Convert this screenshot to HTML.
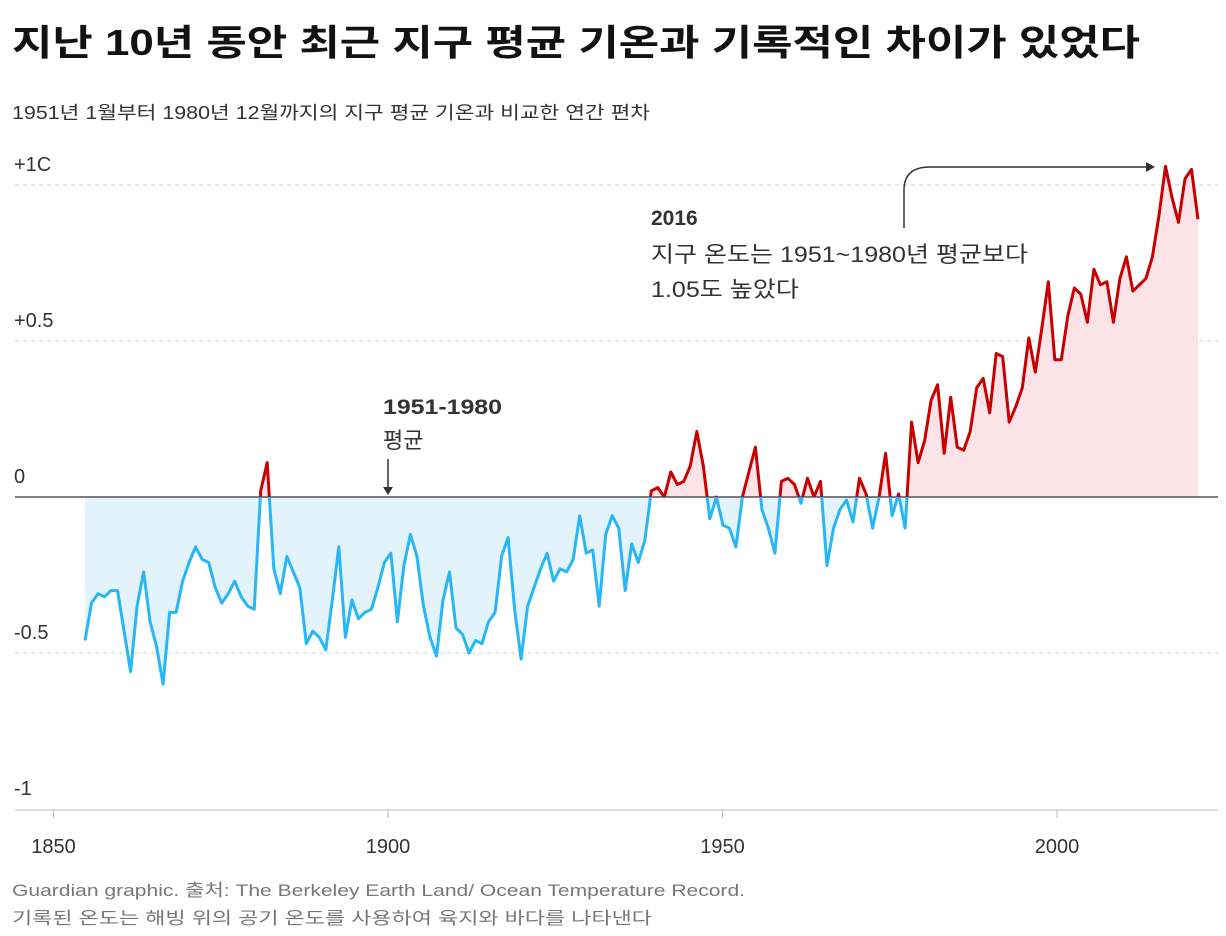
<!DOCTYPE html>
<html><head><meta charset="utf-8"><style>
body{margin:0;background:#fff;width:1226px;height:936px;overflow:hidden;font-family:"Liberation Sans","Noto Sans CJK KR",sans-serif;color:#121212}
svg{position:absolute;left:0;top:0}
</style></head><body>
<svg width="1226" height="936">
<text x="12" y="55" font-size="36" font-weight="bold" fill="#121212" textLength="1128" lengthAdjust="spacingAndGlyphs">지난 10년 동안 최근 지구 평균 기온과 기록적인 차이가 있었다</text>
<text x="12" y="119" font-size="18" fill="#333" textLength="638" lengthAdjust="spacingAndGlyphs">1951년 1월부터 1980년 12월까지의 지구 평균 기온과 비교한 연간 편차</text>
<g id="grid"></g>
<g id="areas"></g>
<g id="lines"></g>
<g id="xaxis"></g>
<g>
<text x="383" y="414" font-size="21" font-weight="bold" fill="#333" textLength="119" lengthAdjust="spacingAndGlyphs">1951-1980</text>
<text x="383" y="448" font-size="22" fill="#333">평균</text>
<line x1="388" y1="459" x2="388" y2="493" stroke="#333" stroke-width="1.5"/>
<path d="M383,487 L388,495 L393,487 Z" fill="#333"/>
</g>
<g>
<text x="651" y="225" font-size="21" font-weight="bold" fill="#333">2016</text>
<text x="651" y="262" font-size="22" fill="#333" textLength="377" lengthAdjust="spacingAndGlyphs">지구 온도는 1951~1980년 평균보다</text>
<text x="651" y="297" font-size="22" fill="#333" textLength="148" lengthAdjust="spacingAndGlyphs">1.05도 높았다</text>
<path d="M904,228 L904,190 Q904,167 930,167 L1148,167" fill="none" stroke="#333" stroke-width="1.5"/>
<path d="M1146,162 L1155,167 L1146,172 Z" fill="#333"/>
</g>
<text x="12" y="896" font-size="17" fill="#777" textLength="733" lengthAdjust="spacingAndGlyphs">Guardian graphic. 출처: The Berkeley Earth Land/ Ocean Temperature Record.</text>
<text x="12" y="924" font-size="17" fill="#777" textLength="640" lengthAdjust="spacingAndGlyphs">기록된 온도는 해빙 위의 공기 온도를 사용하여 육지와 바다를 나타낸다</text>
</svg>
<script>
const startYear = 1850;
const anomalies = [-0.46,-0.34,-0.31,-0.32,-0.30,-0.30,-0.43,-0.56,-0.35,-0.24,-0.40,-0.48,-0.60,-0.37,-0.37,-0.27,-0.21,-0.16,-0.20,-0.21,
-0.29,-0.34,-0.31,-0.27,-0.32,-0.35,-0.36,0.02,0.11,-0.23,-0.31,-0.19,-0.24,-0.29,-0.47,-0.43,-0.45,-0.49,-0.33,-0.16,
-0.45,-0.33,-0.39,-0.37,-0.36,-0.29,-0.21,-0.18,-0.40,-0.22,-0.12,-0.19,-0.35,-0.45,-0.51,-0.33,-0.24,-0.42,-0.44,-0.50,
-0.46,-0.47,-0.40,-0.37,-0.19,-0.13,-0.36,-0.52,-0.35,-0.29,-0.23,-0.18,-0.27,-0.23,-0.24,-0.20,-0.06,-0.18,-0.17,-0.35,
-0.12,-0.06,-0.10,-0.30,-0.15,-0.21,-0.14,0.02,0.03,0.00,0.08,0.04,0.05,0.10,0.21,0.10,-0.07,0.00,-0.09,-0.10,
-0.16,0.00,0.08,0.16,-0.04,-0.10,-0.18,0.05,0.06,0.04,-0.02,0.06,0.00,0.05,-0.22,-0.10,-0.04,-0.01,-0.08,0.06,
0.01,-0.10,0.00,0.14,-0.06,0.01,-0.10,0.24,0.11,0.18,0.31,0.36,0.14,0.32,0.16,0.15,0.21,0.35,0.38,0.27,
0.46,0.45,0.24,0.29,0.35,0.51,0.40,0.54,0.69,0.44,0.44,0.58,0.67,0.65,0.56,0.73,0.68,0.69,0.56,0.70,
0.77,0.66,0.68,0.70,0.77,0.90,1.06,0.96,0.88,1.02,1.05,0.89];
const yTicks = [1, 0.5, 0, -0.5, -1];
const yTickLabels = ["+1C", "+0.5", "0", "-0.5", "-1"];
const xTicks = [1850, 1900, 1950, 2000];

const NS = "http://www.w3.org/2000/svg";
const lastYear = startYear + anomalies.length - 1;
function xScale(yr){ return 85 + (yr - startYear) * (1198 - 85) / (2021 - 1850); }
function xTickScale(yr){ return 53.5 + (yr - 1850) * 6.69; }
function yScale(v){ return 497 - v * 312; }
function mk(tag, attrs, parent){ const e = document.createElementNS(NS, tag); for (const k in attrs) e.setAttribute(k, attrs[k]); parent.appendChild(e); return e; }

const grid = document.getElementById('grid');
yTicks.forEach((t, i) => {
  const y = yScale(t);
  if (t !== 0 && t !== -1) {
    const l = mk('line', {x1: 15, x2: 1218, y1: y, y2: y, stroke: '#ccc', 'stroke-dasharray': '4,4', 'stroke-width': 1}, grid);
    
    
  }
  const tx = mk('text', {x: 14, y: y - 14, 'font-size': 20, fill: '#333'}, grid);
  tx.textContent = yTickLabels[i];
  
  
});

const pts = anomalies.map((v, i) => [xScale(startYear + i), yScale(v)]);
const linePath = 'M' + pts.map(p => p[0].toFixed(1) + ',' + p[1].toFixed(1)).join('L');
const y0 = yScale(0);
const areaPath = linePath + 'L' + xScale(lastYear) + ',' + y0 + 'L' + xScale(startYear) + ',' + y0 + 'Z';

const defs = mk('defs', {}, document.querySelector('svg'));
const ca = mk('clipPath', {id: 'above'}, defs); mk('rect', {x: 0, y: 0, width: 1226, height: y0}, ca);
const cb = mk('clipPath', {id: 'below'}, defs); mk('rect', {x: 0, y: y0, width: 1226, height: 500}, cb);

const areas = document.getElementById('areas');
const aAbove = mk('path', {d: areaPath, fill: '#fce3e8', 'clip-path': 'url(#above)'}, areas);


const aBelow = mk('path', {d: areaPath, fill: '#e3f3fc', 'clip-path': 'url(#below)'}, areas);



const zl = mk('line', {x1: 15, x2: 1218, y1: y0, y2: y0, stroke: '#333', 'stroke-width': 1.3}, areas);



const lines = document.getElementById('lines');
const lAbove = mk('path', {d: linePath, fill: 'none', stroke: '#c70000', 'stroke-width': 3, 'stroke-linejoin': 'round', 'clip-path': 'url(#above)'}, lines);


const lBelow = mk('path', {d: linePath, fill: 'none', stroke: '#29b6f6', 'stroke-width': 3, 'stroke-linejoin': 'round', 'clip-path': 'url(#below)'}, lines);



const xa = document.getElementById('xaxis');
const ax = mk('line', {x1: 15, x2: 1218, y1: 810, y2: 810, stroke: '#bbb', 'stroke-width': 1}, xa);


xTicks.forEach(t => {
  const x = xTickScale(t);
  const tk = mk('line', {x1: x, x2: x, y1: 810, y2: 818, stroke: '#bbb'}, xa);
  
  
  const tx = mk('text', {x: x, y: 853, 'font-size': 20, fill: '#333', 'text-anchor': 'middle'}, xa);
  tx.textContent = t;
  
  
});
</script>
</body></html>
